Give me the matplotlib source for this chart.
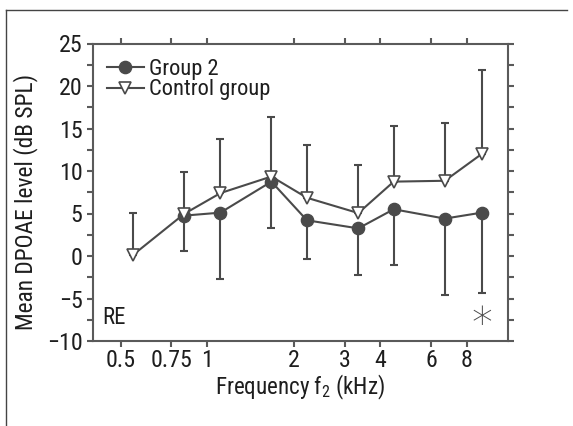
import matplotlib
matplotlib.use("Agg")
import matplotlib.pyplot as plt
import matplotlib.font_manager as fm
from matplotlib.ticker import FixedLocator, FixedFormatter, NullLocator, MultipleLocator
from matplotlib.lines import Line2D

# ---- data ----
freq = [0.55, 0.83, 1.11, 1.67, 2.22, 3.35, 4.45, 6.7, 9.0]
control_mean = [0.1, 4.95, 7.4, 9.35, 6.85, 5.05, 8.75, 8.85, 12.0]
control_upper = [5.1, 9.85, 13.8, 16.3, 13.05, 10.7, 15.3, 15.6, 21.9]
g2_freq = [0.83, 1.11, 1.67, 2.22, 3.35, 4.45, 6.7, 9.0]
g2_mean = [4.75, 5.1, 8.75, 4.2, 3.25, 5.5, 4.4, 5.1]
g2_lower = [0.6, -2.7, 3.35, -0.4, -2.25, -1.1, -4.6, -4.4]
xticks = [0.5, 0.75, 1, 2, 3, 4, 6, 8]
xticklabels = ["0.5", "0.75", "1", "2", "3", "4", "6", "8"]
yticks = [-10, -5, 0, 5, 10, 15, 20, 25]
yticklabels = ["\u221210", "\u22125", "0", "5", "10", "15", "20", "25"]

# ---- font choice: prefer a condensed face ----
ttf = fm.fontManager.ttflist
names = {f.name for f in ttf}
family, stretch = None, 'normal'
for n in ['Liberation Sans Narrow', 'Roboto Condensed', 'Open Sans Condensed',
          'Noto Sans Condensed', 'DejaVu Sans Condensed', 'Noto Sans SemiCondensed']:
    if n in names:
        family = n
        break
if family is None:
    for base in ['Noto Sans', 'Open Sans', 'DejaVu Sans', 'Roboto']:
        hits = [f for f in ttf if f.name == base and 'condensed' in str(f.stretch).lower()
                and str(f.style) == 'normal']
        if hits:
            family, stretch = base, str(hits[0].stretch)
            break
if family is None:
    family = 'Roboto' if 'Roboto' in names else 'Liberation Sans'

plt.rcParams['font.family'] = [family, 'DejaVu Sans']
plt.rcParams['font.stretch'] = stretch
plt.rcParams['mathtext.default'] = 'regular'

LC = '#4a4a4a'
SC = '#5a5a5a'
TC = '#1e1e1e'
W, H = 573, 426

fig = plt.figure(figsize=(W / 100, H / 100), dpi=100)
renderer = fig.canvas.get_renderer()


def fit(s, target):
    t = fig.text(0, 0, s, fontsize=10)
    w = t.get_window_extent(renderer).width
    t.remove()
    return 10 * target / w


fs_tick = fit('0.75', 32) * 1.3
fs_leg = fit('Control group', 101) * 1.2
fs_xl = fit('Frequency f$_2$ (kHz)', 132) * 1.3
fs_yl = fit('Mean DPOAE level (dB SPL)', 243) * 1.05
fs_re = fit('RE', 18) * 1.3

left, right, top, bottom = 93, 507.5, 43.5, 341
ax = fig.add_axes([left / W, 1 - bottom / H, (right - left) / W, (bottom - top) / H])

# figure border (left + top)
fig.add_artist(Line2D([6.2 / W, 6.2 / W], [0, 1 - 10 / H], transform=fig.transFigure,
                      color='#444444', lw=1.0))
fig.add_artist(Line2D([6.2 / W, 0.99], [1 - 10 / H, 1 - 10 / H], transform=fig.transFigure,
                      color='#444444', lw=1.0))

c_err = [[0] * len(freq), [u - m for u, m in zip(control_upper, control_mean)]]
g_err = [[m - l for m, l in zip(g2_mean, g2_lower)], [0] * len(g2_mean)]

ax.errorbar(g2_freq, g2_mean, yerr=g_err, fmt='none', ecolor=LC, elinewidth=1.5,
            capsize=3, capthick=1.5, zorder=2)
ax.errorbar(freq, control_mean, yerr=c_err, fmt='none', ecolor=LC, elinewidth=1.5,
            capsize=3, capthick=1.5, zorder=2)
ax.plot(g2_freq, g2_mean, '-o', color=LC, lw=1.5, ms=8.8, mfc=LC, mec=LC,
        label='Group 2', zorder=3)
ax.plot(freq, control_mean, '-v', color=LC, lw=1.5, ms=9, mfc='white', mec=LC,
        mew=1.2, label='Control group', zorder=4)

ax.set_xscale('log')
ax.set_xlim(0.4, 11.07)
ax.set_ylim(-10, 25)
ax.xaxis.set_major_locator(FixedLocator(xticks))
ax.xaxis.set_major_formatter(FixedFormatter(xticklabels))
ax.xaxis.set_minor_locator(NullLocator())
ax.yaxis.set_major_locator(FixedLocator(yticks))
ax.yaxis.set_major_formatter(FixedFormatter(yticklabels))
ax.yaxis.set_minor_locator(MultipleLocator(2.5))

for s in ax.spines.values():
    s.set_color(SC)
    s.set_linewidth(1.5)
ax.tick_params(which='both', direction='out', color=SC, width=1.5,
               top=True, right=True, labelsize=fs_tick, labelcolor=TC)
ax.tick_params(which='major', length=4.5)
ax.tick_params(which='minor', length=4)
ax.tick_params(axis='x', which='major', pad=1.0)
ax.tick_params(axis='y', which='major', pad=3.0)

ax.set_xlabel('Frequency f$_2$ (kHz)', fontsize=fs_xl, color=TC, labelpad=0)
ax.set_ylabel('Mean DPOAE level (dB SPL)', fontsize=fs_yl, color=TC)
ax.yaxis.set_label_coords(38 / W, 1 - 201.5 / H, transform=fig.transFigure)
ax.xaxis.set_label_coords(300 / W, 1 - 387 / H, transform=fig.transFigure)
ax.xaxis.label.set_va('center')

ax.text(102 / W, 1 - 318 / H, 'RE', transform=fig.transFigure, ha='left', va='center',
        fontsize=fs_re, color=TC)
ax.text(9.0, -8.1, '*', ha='center', va='center', fontsize=30, color=LC,
        family='DejaVu Sans', fontweight='light')

fpx = fs_leg * 100 / 72
spacing = -0.2
anchor = [106.6, 60.0]
for _ in range(3):
    leg = ax.legend(loc='upper left', bbox_to_anchor=(anchor[0] / W, 1 - anchor[1] / H),
                    bbox_transform=fig.transFigure, frameon=False, fontsize=fs_leg,
                    handlelength=37.7 / fpx, handletextpad=4.3 / fpx,
                    labelspacing=spacing, borderaxespad=0, borderpad=0)
    for t in leg.get_texts():
        t.set_color(TC)
    fig.canvas.draw()
    e0 = leg.get_texts()[0].get_window_extent(renderer)
    e1 = leg.get_texts()[1].get_window_extent(renderer)
    c0 = H - (e0.y0 + e0.y1) / 2
    c1 = H - (e1.y0 + e1.y1) / 2
    spacing += (20.7 - (c1 - c0)) / fpx
    anchor[1] += 69.3 - c0
    anchor[0] += 148.6 - e0.x0

fig.savefig('out.png', dpi=100)
